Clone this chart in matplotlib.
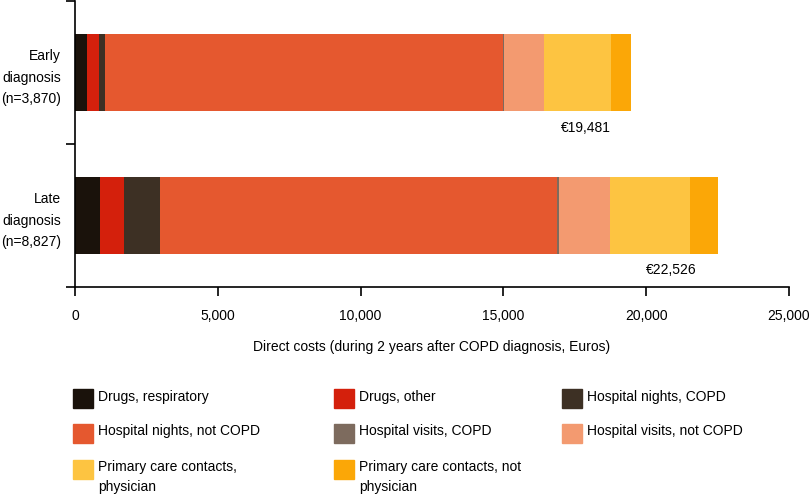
import matplotlib.pyplot as plt
from matplotlib.patches import Rectangle

plt.rcParams['font.family'] = ['Liberation Sans', 'DejaVu Sans']
plt.rcParams['font.size'] = 10

groups = ["Early\ndiagnosis\n(n=3,870)", "Late\ndiagnosis\n(n=8,827)"]
totals = [19481, 22526]
total_labels = ["€19,481", "€22,526"]

categories = ["Drugs, respiratory", "Drugs, other", "Hospital nights, COPD",
              "Hospital nights, not COPD", "Hospital visits, COPD",
              "Hospital visits, not COPD", "Primary care contacts,\nphysician",
              "Primary care contacts, not\nphysician"]
early = [415, 440, 200, 13925, 40, 1400, 2350, 711]
late = [880, 830, 1280, 13900, 40, 1785, 2810, 1001]
colors = ["#1a120b", "#d4200c", "#3d3024", "#e5582f", "#7d6b5e",
          "#f39a70", "#fdc441", "#fba707"]

fig = plt.figure(figsize=(8.1, 4.99), dpi=100)
ax = fig.add_axes([75 / 810, 1 - 287 / 499, 714 / 810, 286 / 499])

ypos = [0.5, 1.5]
for yi, vals in zip(ypos, [early, late]):
    left = 0
    for v, c in zip(vals, colors):
        ax.barh(yi, v, left=left, height=0.545, color=c, edgecolor='none')
        left += v

# total labels under each bar
ax.text(totals[0] - 1595, 0.5 + 0.39, total_labels[0], ha='center', va='center')
ax.text(totals[1] - 1650, 1.5 + 0.38, total_labels[1], ha='center', va='center')

ax.set_xlim(0, 25000)
ax.set_ylim(2, 0)
ax.set_xticks([0, 5000, 10000, 15000, 20000, 25000])
ax.set_xticklabels(["0", "5,000", "10,000", "15,000", "20,000", "25,000"])
ax.set_yticks([0, 1, 2])
ax.set_yticklabels([])
ax.set_yticks(ypos, minor=True)
ax.set_yticklabels(groups, minor=True, linespacing=1.68)
ax.tick_params(axis='y', which='minor', length=0, pad=10)
ax.tick_params(axis='both', which='major', length=6.5, width=1.2, direction='out')
ax.tick_params(axis='x', pad=9.5)
for s in ['top', 'right']:
    ax.spines[s].set_visible(False)
for s in ['left', 'bottom']:
    ax.spines[s].set_linewidth(1.2)
ax.set_xlabel("Direct costs (during 2 years after COPD diagnosis, Euros)", labelpad=12)

# legend drawn by hand in a 3-column grid
col_x = [73, 334, 562]
row_y = [398.5, 433.5, 469]
for i, (lab, c) in enumerate(zip(categories, colors)):
    r, k = divmod(i, 3)
    x0 = col_x[k] / 810
    y0 = 1 - row_y[r] / 499
    fig.add_artist(Rectangle((x0, y0 - 9.5 / 499), 20 / 810, 19 / 499,
                             transform=fig.transFigure, color=c))
    fig.text(x0 + 25 / 810, y0 + 9 / 499, lab, ha='left', va='top', linespacing=1.55)

fig.savefig("out.png", dpi=100)
